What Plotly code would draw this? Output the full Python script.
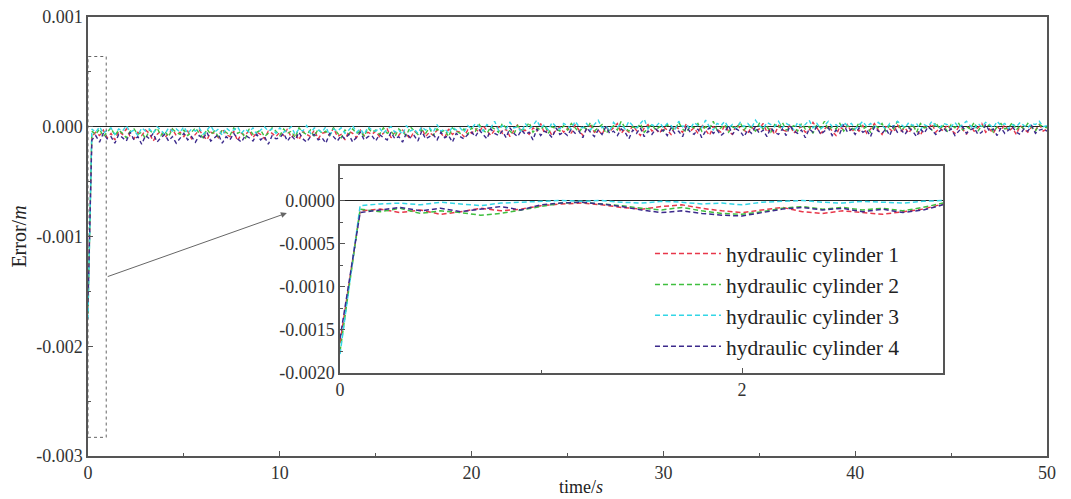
import plotly.graph_objects as go

# ---------------- data (values stored in units of 1e-5 m) ----------------
UNIT = 1e-5
MAIN_STEP = 0.2      # s, sampling of the main-plot series
INSET_STEP = 0.1     # s, sampling of the inset series

names = ["hydraulic cylinder 1", "hydraulic cylinder 2",
         "hydraulic cylinder 3", "hydraulic cylinder 4"]
colors = ["#e8374a", "#3fbf3f", "#33d6e6", "#3c2a8c"]

err1 = [-160, -9, -5, -8, -3, -10, -6, -12, -4, -7, -2, -9, -11, -5, -8, -3, -6, -13, -7, -4, -10, -6, -2, -8, -5,
        -9, -4, -11, -7, -3, -8, -12, -5, -6, -10, -2, -7, -9, -4, -13, -6, -8, -3, -10, -5, -7, -11, -4, -6, -9,
        -5, -8, -2, -10, -6, -12, -4, -7, -9, -3, -11, -6, -5, -8, -1, -9, -7, -12, -4, -6, -10, -3, -8, -5, -7,
        -4, -9, -6, -2, -10, -5, -8, -3, -7, -11, -4, -6, -1, -9, -5, -8, -3, -6, -10, -2, -7, -4, -5, -9, -3,
        -6, -2, -5, 1, -4, -8, -3, 0, -6, -2, -9, -4, 2, -5, -3, -7, -1, -4, 3, -6, -2, -8, -3, 0, -5,
        -1, -6, 2, -3, -8, -2, 1, -5, -3, -7, 0, -4, -1, 3, -6, -2, -5, 1, -3, -8, -1, 2, -4, -2, -6,
        0, -3, -7, 1, -2, -5, 3, -4, -1, -6, 2, -3, -8, 0, -2, -5, 1, -4, -7, 2, -1, -3, -6, 0, -4,
        -2, 3, -5, -1, -7, 1, -3, -4, 2, -6, -2, 0, -5, -3, 4, -1, -6, -2, 1, -4, -8, 0, -3, 2, -5,
        -1, -4, 1, -6, -2, 3, -3, -7, 0, -2, -5, 2, -4, -1, -6, 1, -3, -8, 0, -2, 3, -5, -1, -4, 2,
        -3, -6, 0, -2, -7, 1, -4, -1, 3, -5, -2, -6, 0, -3, 2, -4, -1, -7, 1, -2, -5, 0, -3, 2, -4,
        -2]
err2 = [-170, -4, -7, -2, -9, -5, -1, -8, -3, -6, -10, -4, -2, -7, -5, -11, -3, -6, -1, -8, -4, -9, -2, -5, -7,
        -3, -8, -5, -1, -6, -10, -2, -7, -4, -9, -3, -5, -8, -1, -6, -4, -11, -2, -7, -5, -3, -9, -6, -1, -4,
        -8, -2, -6, -4, -10, -1, -5, -7, -3, -9, -2, -6, -4, -8, -1, -5, -10, -3, -7, -2, -6, -4, -9, -1, -5,
        -3, -7, -1, -6, -4, -9, -2, -5, -8, 0, -4, -7, -3, -6, -1, -8, -2, -5, -3, -9, -1, -4, -6, -2, -7,
        -1, -4, 2, -3, -6, 0, -2, -5, 3, -1, -4, -7, 1, -3, -2, 4, -5, -1, -3, 2, -6, 0, -2, -4, 1,
        -3, 3, -1, -5, 0, -2, 4, -4, -1, 2, -6, -2, 1, -3, 5, -1, -4, 0, -2, 3, -5, -1, 2, -3, 0,
        -4, 2, -1, -3, 4, -2, -5, 1, -1, 3, -4, 0, -2, 5, -3, -1, 2, -5, 0, -2, 4, -3, 1, -1, -4,
        3, -2, 0, -5, 2, -1, 4, -3, -1, 1, -4, 3, -2, 0, -6, 2, -1, 5, -3, 0, -2, 3, -4, 1, -1,
        -3, 4, -2, 0, -5, 2, -1, 3, -4, 1, -2, 5, -3, 0, -1, 2, -5, 3, -1, 0, -3, 4, -2, 1, -4,
        2, -1, 3, -3, 0, -2, 4, -4, 1, -1, 2, -5, 0, 3, -2, -1, 4, -3, 1, -2, 3, -1, -4, 2, 0,
        -1]
err3 = [-175, -2, -5, 0, -6, -3, -1, -7, -2, -4, 1, -5, -3, -8, -1, -4, -2, -6, 0, -3, -7, -1, -4, -2, -5,
        0, -6, -2, -4, -1, -7, -3, 1, -5, -2, -8, -1, -4, -3, 0, -6, -2, -5, -1, -7, -3, 0, -4, -2, -6,
        -1, -5, -3, 0, -7, -2, -4, 1, -6, -1, -3, -5, 0, -8, -2, -4, -1, -6, -3, 1, -5, -2, -7, 0, -3,
        -4, -1, -6, -2, 0, -5, -3, -7, 1, -4, -2, -6, 0, -3, -1, -5, 2, -4, -2, -6, 0, -3, -1, -5, 1,
        -2, 3, 0, -4, 2, -1, 5, -3, 1, -2, 4, -1, 0, -5, 3, -2, 1, 6, -1, 2, -3, 4, 0, -2, 3,
        1, -2, 5, 0, -1, 3, -3, 2, 6, -1, 1, -4, 4, 0, 2, -2, 5, 1, -1, 3, 7, -2, 2, 0, 4,
        -1, 3, 1, -3, 5, 0, 2, -2, 4, 1, -1, 6, 0, -3, 3, 1, 5, -1, 2, -2, 4, 0, 3, -1, 6,
        1, -2, 4, 2, 0, 5, -1, 3, 1, -3, 4, 0, 2, 6, -1, 3, -2, 1, 5, 0, 2, -1, 4, 1, 3,
        -2, 2, 5, 0, 3, -1, 4, 1, -2, 3, 0, 5, 2, -1, 4, 1, 3, -3, 2, 0, 5, 1, -1, 3, 2,
        0, 4, -1, 2, 5, 1, -2, 3, 0, 4, 2, -1, 5, 1, 3, -2, 2, 0, 4, 1, -1, 3, 2, 5, 0,
        1]
err4 = [-160, -12, -8, -14, -6, -11, -9, -15, -7, -10, -13, -5, -12, -9, -16, -8, -11, -6, -14, -10, -7, -13, -9, -15, -11,
        -6, -12, -9, -14, -8, -11, -5, -13, -10, -7, -15, -9, -12, -6, -11, -14, -8, -10, -13, -7, -12, -9, -16, -8, -11,
        -10, -6, -13, -8, -12, -5, -11, -14, -9, -7, -12, -10, -15, -6, -9, -13, -8, -11, -7, -14, -10, -5, -12, -9, -8,
        -13, -7, -10, -12, -5, -11, -9, -14, -6, -10, -8, -13, -4, -11, -9, -7, -12, -5, -10, -8, -14, -6, -9, -11, -7,
        -5, -9, -3, -7, -11, -2, -6, -8, -4, -10, -1, -6, -9, -3, -7, -5, -12, -2, -8, -4, -6, -10, -1, -7, -5,
        -8, -2, -6, -4, -10, -1, -5, -9, -3, -7, 0, -6, -4, -8, -2, -5, -11, -3, -6, -1, -9, -4, -7, -2, -5,
        -3, -8, -1, -6, -4, -9, 0, -5, -7, -2, -10, -4, -1, -6, -3, -8, -5, 1, -7, -2, -4, -9, -3, -6, 0,
        -6, -3, -9, -1, -5, -7, -2, -8, 1, -4, -6, -3, -10, -2, -5, 0, -7, -4, -1, -8, -3, -6, 2, -5, -2,
        -7, -1, -5, -3, -9, 0, -4, -6, -2, -8, 1, -5, -3, -7, -1, -4, -9, -2, -6, 0, -3, -7, -4, -1, -5,
        -2, -8, -4, 0, -6, -3, -1, -7, -5, 2, -4, -2, -8, -1, -6, -3, 0, -5, -7, -2, -4, 1, -6, -3, -2,
        -4]

ins1 = [-165, -12, -10, -14, -11, -16, -13, -9, -12, -10, -6, -4, -3, -5, -8, -10, -7, -5, -9, -12, -14, -11, -8, -13, -15, -12, -14, -16, -13, -10, -4]
ins2 = [-175, -10, -13, -9, -15, -12, -14, -17, -15, -11, -7, -3, -2, -4, -6, -9, -11, -8, -12, -15, -16, -13, -9, -7, -10, -8, -11, -9, -12, -8, -3]
ins3 = [-178, -6, -4, -3, -5, -2, -4, -6, -3, -2, -1, 0, -1, 0, -2, -3, -1, -2, -4, -3, -5, -2, -1, 0, -2, -3, -1, -2, -3, -1, 0]
ins4 = [-160, -14, -11, -8, -12, -9, -13, -10, -7, -11, -5, -3, -2, -4, -7, -11, -14, -12, -15, -17, -18, -14, -10, -8, -11, -9, -13, -10, -14, -11, -5]

main_series = [err1, err2, err3, err4]
inset_series = [ins1, ins2, ins3, ins4]

x_tickvals = [0, 10, 20, 30, 40, 50]
x_ticktext = ["0", "10", "20", "30", "40", "50"]
y_tickvals = [0.001, 0.0, -0.001, -0.002, -0.003]
y_ticktext = ["0.001", "0.000", "-0.001", "-0.002", "-0.003"]
ix_tickvals = [0, 2]
ix_ticktext = ["0", "2"]
iy_tickvals = [0.0, -0.0005, -0.001, -0.0015, -0.002]
iy_ticktext = ["0.0000", "-0.0005", "-0.0010", "-0.0015", "-0.0020"]

# ---------------- figure ----------------
FONT = "Liberation Serif, Times New Roman, serif"
AX = "#555555"

fig = go.Figure()

for s, c in zip(main_series, colors):
    t = [round(i * MAIN_STEP, 2) for i in range(len(s))]
    fig.add_trace(go.Scatter(
        x=t, y=[v * UNIT for v in s], mode="lines",
        line=dict(color=c, width=1.4, dash="4px,3px"),
        showlegend=False, xaxis="x", yaxis="y"))

for k, (s, c, n) in enumerate(zip(inset_series, colors, names)):
    t = [round(i * INSET_STEP, 2) for i in range(len(s))]
    fig.add_trace(go.Scatter(
        x=t, y=[v * UNIT for v in s], mode="lines", name=n,
        legendgroup="g%d" % k,
        line=dict(color=c, width=1.5, dash="5px,3px"),
        xaxis="x2", yaxis="y2"))

common_ax = dict(showline=True, linecolor=AX, linewidth=1.5, mirror=True,
                 showgrid=False, ticks="inside", tickcolor=AX, ticklen=5,
                 automargin=False,
                 tickfont=dict(family=FONT, size=18, color="#333"))

fig.update_layout(
    width=1071, height=499,
    margin=dict(l=88, r=24, t=17, b=43),
    paper_bgcolor="white", plot_bgcolor="white",
    font=dict(family=FONT, color="#333"),
    xaxis=dict(range=[0, 50], tickmode="array", tickvals=x_tickvals, ticktext=x_ticktext,
               zeroline=False,
               minor=dict(tickmode="linear", tick0=0, dtick=5, ticks="inside", ticklen=3, tickcolor=AX),
               **common_ax),
    yaxis=dict(range=[-0.003, 0.001], tickmode="array", tickvals=y_tickvals, ticktext=y_ticktext,
               zeroline=True, zerolinecolor="#222", zerolinewidth=1.2,
               minor=dict(tickmode="linear", tick0=0, dtick=0.0005, ticks="inside", ticklen=3, tickcolor=AX),
               title=dict(text="Error/<i>m</i>", font=dict(family=FONT, size=20, color="#222"), standoff=4),
               **common_ax),
    xaxis2=dict(domain=[0.2628, 0.8916], anchor="y2", range=[0, 3],
                tickmode="array", tickvals=ix_tickvals, ticktext=ix_ticktext, zeroline=False,
                minor=dict(tickmode="linear", tick0=0, dtick=1, ticks="inside", ticklen=3, tickcolor=AX),
                **common_ax),
    yaxis2=dict(domain=[0.189, 0.6606], anchor="x2", range=[-0.002, 0.0004],
                tickmode="array", tickvals=iy_tickvals, ticktext=iy_ticktext,
                zeroline=True, zerolinecolor="#222", zerolinewidth=1.2,
                minor=dict(tickmode="linear", tick0=0, dtick=0.00025, ticks="inside", ticklen=3, tickcolor=AX),
                **common_ax),
    legend=dict(x=0.586, y=0.508, xanchor="left", yanchor="top",
                bgcolor="rgba(0,0,0,0)", traceorder="grouped", tracegroupgap=0,
                font=dict(family=FONT, size=21.5, color="#222"), itemwidth=66),
    shapes=[dict(type="rect", xref="x", yref="y", x0=0, x1=0.95, y0=-0.00283, y1=0.00064,
                 line=dict(color="#666", width=1, dash="dot"))],
    annotations=[dict(xref="x", yref="y", axref="x", ayref="y",
                      x=10.37, y=-0.000786, ax=0.95, ay=-0.00137,
                      showarrow=True, arrowhead=2, arrowsize=1.2, arrowwidth=1,
                      arrowcolor="#666", text=""),
                 dict(xref="paper", yref="paper", x=0.514, y=-0.071,
                      xanchor="center", yanchor="middle", showarrow=False,
                      text="time/<i>s</i>", font=dict(family=FONT, size=18, color="#222"))],
)

fig.write_html("out.html", config={"displayModeBar": False},
               post_script="document.body.style.margin='0px';")
